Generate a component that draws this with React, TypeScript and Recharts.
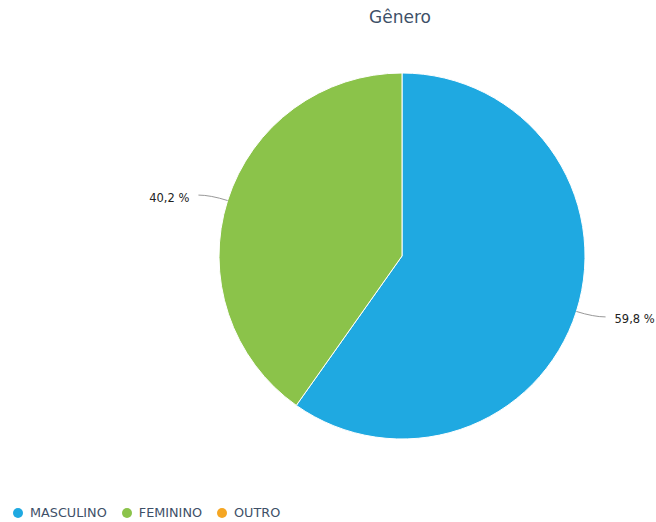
import { Legend, Pie, PieChart, Cell } from 'recharts';

const categories = ['MASCULINO', 'FEMININO', 'OUTRO'];
const shares = [59.8, 40.2, 0];
const sliceColors = ['#1fa9e1', '#8bc34a', '#f5a623'];

const rows = categories.map((name, i) => ({ name, value: shares[i] }));

const RAD = Math.PI / 180;

function SliceLabel(props: any) {
  const { cx, cy, midAngle, outerRadius, value } = props;
  if (!value) return null;
  const cos = Math.cos(-midAngle * RAD);
  const sin = Math.sin(-midAngle * RAD);
  const x0 = cx + outerRadius * cos;
  const y0 = cy + outerRadius * sin;
  const x1 = cx + (outerRadius + 18) * cos;
  const y1 = cy + (outerRadius + 18) * sin;
  const dir = cos >= 0 ? 1 : -1;
  const x2 = x1 + dir * 12;
  const text = `${value.toFixed(1).replace('.', ',')} %`;
  return (
    <g>
      <path d={`M${x0},${y0} Q${x1},${y1} ${x2},${y1}`} stroke="#999" fill="none" strokeWidth={1} />
      <text
        x={x2 + dir * 9}
        y={y1 + 3}
        textAnchor={dir > 0 ? 'start' : 'end'}
        dominantBaseline="middle"
        fontSize={11.5}
        fill="#222"
      >
        {text}
      </text>
    </g>
  );
}

function LegendRow() {
  return (
    <div style={{ display: 'flex', alignItems: 'center', paddingLeft: 13 }}>
      {categories.map((name, i) => (
        <span key={name} style={{ display: 'flex', alignItems: 'center', marginRight: 15 }}>
          <span
            style={{
              width: 10,
              height: 10,
              borderRadius: '50%',
              background: sliceColors[i],
              display: 'inline-block',
              marginRight: 7,
            }}
          />
          <span style={{ fontSize: 12.8, color: '#3e5068' }}>{name}</span>
        </span>
      ))}
    </div>
  );
}

export default function App() {
  return (
    <div
      style={{
        position: 'absolute',
        left: 0,
        top: 0,
        width: 656,
        height: 522,
        background: '#fff',
        fontFamily: '"DejaVu Sans", sans-serif',
      }}
    >
      <div
        style={{
          position: 'absolute',
          left: 300,
          width: 200,
          top: 7,
          textAlign: 'center',
          fontSize: 17,
          color: '#3e5068',
        }}
      >
        Gênero
      </div>
      <PieChart width={656} height={522} margin={{ top: 0, right: 0, bottom: 0, left: 0 }}>
        <Pie
          data={rows}
          dataKey="value"
          nameKey="name"
          cx={402}
          cy={256}
          outerRadius={183}
          startAngle={90}
          endAngle={-270}
          stroke="#fff"
          strokeWidth={1}
          labelLine={false}
          label={SliceLabel}
          isAnimationActive={false}
        >
          {rows.map((row, i) => (
            <Cell key={row.name} fill={sliceColors[i]} />
          ))}
        </Pie>
        <Legend
          verticalAlign="bottom"
          align="left"
          content={LegendRow}
          wrapperStyle={{ left: 0, bottom: 2, width: 656 }}
        />
      </PieChart>
    </div>
  );
}
